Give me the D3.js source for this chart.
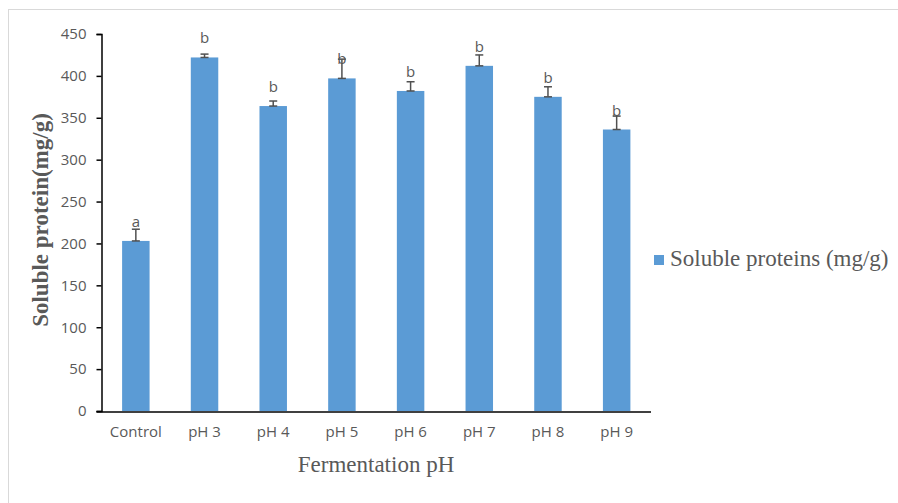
<!DOCTYPE html>
<html>
<head>
<meta charset="utf-8">
<script src="https://cdn.jsdelivr.net/npm/d3@7"></script>
<style>
  html, body { margin: 0; padding: 0; background: #fff; }
  svg { display: block; }
</style>
</head>
<body>
<svg id="chart"></svg>
<script>
// Data
const categories = ["Control", "pH 3", "pH 4", "pH 5", "pH 6", "pH 7", "pH 8", "pH 9"];
const proteinValues = [203, 422, 364, 397, 382, 412, 375, 336];
const proteinErrors = [14, 4, 6, 23, 11, 13, 12, 16];
const letters = ["a", "b", "b", "b", "b", "b", "b", "b"];
const yTicks = [0, 50, 100, 150, 200, 250, 300, 350, 400, 450];
const seriesName = "Soluble proteins (mg/g)";

const W = 898, H = 503;
const BAR = "#5b9bd5";
const TEXT = "#595959";
const sans = "'Open Sans', 'Noto Sans', sans-serif";
const serif = "'Liberation Serif', 'Times New Roman', serif";

const plot = { left: 101.5, right: 651, top: 34, bottom: 411 };

const svg = d3.select("#chart").attr("width", W).attr("height", H);

// outer chart frame (only left/top edges show)
svg.append("rect")
  .attr("x", 8.5).attr("y", 9.5)
  .attr("width", 1000).attr("height", 1000)
  .attr("fill", "none")
  .attr("stroke", "#d9d9d9");

const x = d3.scaleBand()
  .domain(categories)
  .range([plot.left, plot.right])
  .paddingInner(0.6)
  .paddingOuter(0.3);

const y = d3.scaleLinear()
  .domain([0, 450])
  .range([plot.bottom, plot.top]);

const rows = categories.map((c, i) => ({
  cat: c, value: proteinValues[i], err: proteinErrors[i], letter: letters[i],
}));

// bars
svg.append("g")
  .selectAll("rect")
  .data(rows)
  .join("rect")
  .attr("x", (d) => x(d.cat))
  .attr("y", (d) => y(d.value))
  .attr("width", x.bandwidth())
  .attr("height", (d) => y(0) - y(d.value))
  .attr("fill", BAR);

// error bars (plus direction)
const eb = svg.append("g")
  .attr("stroke", "#505050")
  .attr("stroke-width", 1.5);
rows.forEach((d) => {
  const cx = x(d.cat) + x.bandwidth() / 2;
  const y0 = y(d.value), y1 = y(d.value + d.err);
  eb.append("line").attr("x1", cx).attr("x2", cx).attr("y1", y0).attr("y2", y1);
  eb.append("line").attr("x1", cx - 4).attr("x2", cx + 4).attr("y1", y1).attr("y2", y1);
  eb.append("line").attr("x1", cx - 4).attr("x2", cx + 4).attr("y1", y0).attr("y2", y0);
});

// significance letters
svg.append("g")
  .selectAll("text")
  .data(rows)
  .join("text")
  .attr("x", (d) => x(d.cat) + x.bandwidth() / 2)
  .attr("y", (d) => y(d.value) - 14)
  .attr("text-anchor", "middle")
  .attr("fill", TEXT)
  .attr("font-family", sans)
  .attr("font-size", 15)
  .text((d) => d.letter);

// y axis
svg.append("g")
  .attr("transform", `translate(${plot.left},0)`)
  .call(d3.axisLeft(y).tickValues(yTicks).tickSize(5).tickPadding(10))
  .call((a) => a.select(".domain").attr("stroke", "#000").attr("stroke-width", 1.5))
  .call((a) => a.selectAll("line").attr("stroke", "#000").attr("stroke-width", 1.5))
  .call((a) =>
    a.selectAll("text")
      .attr("fill", TEXT)
      .attr("font-family", sans)
      .attr("font-size", 15),
  );

// x axis
svg.append("g")
  .attr("transform", `translate(0,${plot.bottom + 1})`)
  .call(d3.axisBottom(x).tickSize(0).tickPadding(14).tickSizeOuter(0))
  .call((a) =>
    a.select(".domain")
      .attr("d", `M${plot.left - 5},0H${plot.right}`)
      .attr("stroke", "#000")
      .attr("stroke-width", 1.5),
  )
  .call((a) =>
    a.selectAll("text")
      .attr("fill", TEXT)
      .attr("font-family", sans)
      .attr("font-size", 15),
  );

// axis titles
svg.append("text")
  .attr("x", 376)
  .attr("y", 472)
  .attr("text-anchor", "middle")
  .attr("fill", TEXT)
  .attr("font-family", serif)
  .attr("font-size", 23)
  .text("Fermentation pH");

svg.append("text")
  .attr("transform", "translate(48,220) rotate(-90)")
  .attr("text-anchor", "middle")
  .attr("fill", TEXT)
  .attr("font-family", serif)
  .attr("font-weight", "bold")
  .attr("font-size", 23)
  .text("Soluble protein(mg/g)");

// legend
const lg = svg.append("g").attr("transform", "translate(654,255)");
lg.append("rect").attr("width", 10).attr("height", 10).attr("fill", BAR);
lg.append("text")
  .attr("x", 16)
  .attr("y", 11)
  .attr("fill", TEXT)
  .attr("font-family", serif)
  .attr("font-size", 23)
  .text(seriesName);
</script>
</body>
</html>
